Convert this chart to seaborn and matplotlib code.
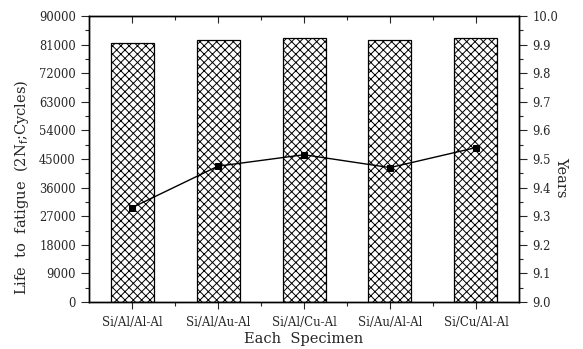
import matplotlib
matplotlib.use("Agg")
import matplotlib.pyplot as plt
import seaborn as sns
import pandas as pd
from matplotlib.ticker import MultipleLocator, FixedLocator

specimens = ["Si/Al/Al-Al", "Si/Al/Au-Al", "Si/Al/Cu-Al", "Si/Au/Al-Al", "Si/Cu/Al-Al"]
life_cycles = [81400, 82600, 83000, 82500, 83000]
years = [9.33, 9.475, 9.515, 9.47, 9.54]
left_ticks = [0, 9000, 18000, 27000, 36000, 45000, 54000, 63000, 72000, 81000, 90000]
right_ticks = [9.0, 9.1, 9.2, 9.3, 9.4, 9.5, 9.6, 9.7, 9.8, 9.9, 10.0]

sns.set_style("white")
plt.rcParams['font.family'] = ['DejaVu Serif']
plt.rcParams['hatch.linewidth'] = 0.7

df = pd.DataFrame({"Specimen": specimens, "Life": life_cycles, "Years": years})

fig = plt.figure(figsize=(5.83, 3.49), dpi=100)
ax = fig.add_axes([0.1527, 0.1347, 0.7375, 0.8193])

sns.barplot(data=df, x="Specimen", y="Life", color="white", edgecolor="black",
            linewidth=0.9, width=0.5, ax=ax, saturation=1)
for p in ax.patches:
    p.set_hatch("xxxx")
    p.set_facecolor("white")
    p.set_edgecolor("black")

ax.set_ylim(0, 90000)
ax.set_xlim(-0.5, 4.5)
ax.set_yticks(left_ticks)
ax.set_yticklabels([str(t) for t in left_ticks], fontsize=8.3)
ax.yaxis.set_minor_locator(MultipleLocator(4500))
ax.xaxis.set_minor_locator(FixedLocator([0.5, 1.5, 2.5, 3.5]))
ax.tick_params(axis="y", which="major", direction="out", length=6, width=0.8, left=True)
ax.tick_params(axis="y", which="minor", direction="out", length=3, width=0.8, left=True)
ax.tick_params(axis="x", which="major", direction="out", length=5, width=0.8, bottom=True, top=True,
               labelsize=8.5, pad=5)
ax.tick_params(axis="x", which="minor", direction="out", length=3, width=0.8, bottom=True, top=True)
ax.set_xlabel("Each  Specimen", fontsize=10.5, labelpad=2)
ax.set_ylabel("Life  to  fatigue  (2N$_\\mathrm{f}$;Cycles)", fontsize=10.5)
ax.yaxis.set_label_coords(-0.135, 0.40)
for s in ax.spines.values():
    s.set_linewidth(1.0)
    s.set_color("black")

ax2 = ax.twinx()
sns.pointplot(data=df, x="Specimen", y="Years", color="black", markers="s",
              markersize=4, linewidth=1.0, ax=ax2)
ax2.set_xlim(-0.5, 4.5)
ax2.set_ylim(9.0, 10.0)
ax2.set_yticks(right_ticks)
ax2.set_yticklabels([f"{t:.1f}" for t in right_ticks], fontsize=8.3)
ax2.yaxis.set_minor_locator(MultipleLocator(0.05))
ax2.tick_params(axis="y", which="major", direction="out", length=6, width=0.8, right=True)
ax2.tick_params(axis="y", which="minor", direction="out", length=3, width=0.8, right=True)
ax2.set_ylabel("Years", fontsize=10.5, rotation=270)
ax2.yaxis.set_label_coords(1.115, 0.437)
ax2.set_xlabel("")
for s in ax2.spines.values():
    s.set_linewidth(1.0)
    s.set_color("black")

# top ticks inward on the top spine
for t in ax.xaxis.get_major_ticks():
    t.tick2line.set_marker(3)
for t in ax.xaxis.get_minor_ticks():
    t.tick2line.set_marker(3)

fig.savefig("out.png", dpi=100)
